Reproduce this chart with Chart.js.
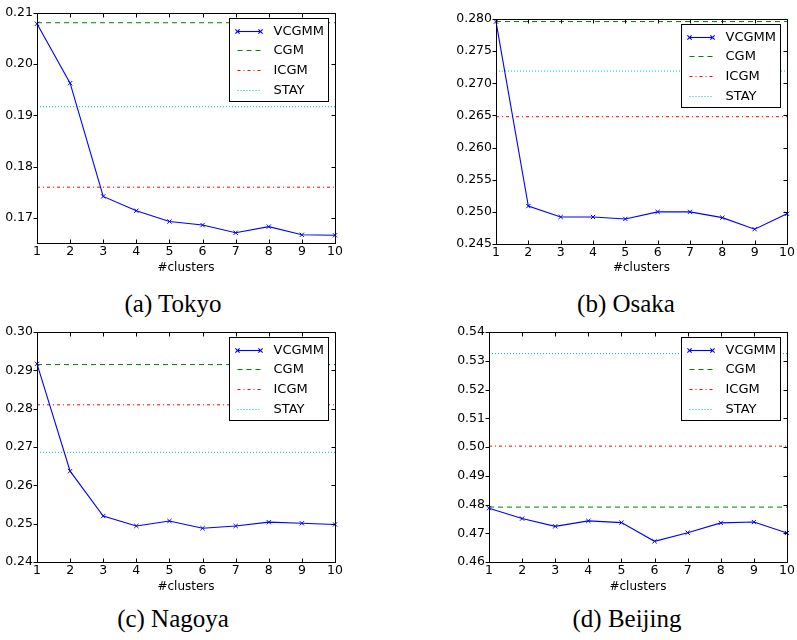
<!DOCTYPE html>
<html>
<head>
<meta charset="utf-8">
<script src="https://cdn.jsdelivr.net/npm/chart.js@4.4.1/dist/chart.umd.min.js"></script>
<style>
  body { margin: 0; background: #fff; width: 797px; height: 640px; position: relative; overflow: hidden; }
  .panel { position: absolute; height: 280px; }
  .caption {
    position: absolute;
    font-family: "Liberation Serif", "DejaVu Serif", serif;
    font-size: 25px;
    color: #000;
    white-space: nowrap;
    transform: translate(-50%, -50%);
  }
</style>
</head>
<body>
<div class="panel" style="left:0;top:0;width:345px"><canvas id="chart-tokyo"></canvas></div>
<div class="panel" style="left:400px;top:0;width:397px"><canvas id="chart-osaka"></canvas></div>
<div class="panel" style="left:0;top:319px;width:345px"><canvas id="chart-nagoya"></canvas></div>
<div class="panel" style="left:400px;top:319px;width:397px"><canvas id="chart-beijing"></canvas></div>

<div class="caption" style="left:173px;top:304px">(a) Tokyo</div>
<div class="caption" style="left:626px;top:304px">(b) Osaka</div>
<div class="caption" style="left:173px;top:619px">(c) Nagoya</div>
<div class="caption" style="left:627px;top:619px">(d) Beijing</div>

<script>
// data
const clusters = [1, 2, 3, 4, 5, 6, 7, 8, 9, 10];
const seriesNames = ['VCGMM', 'CGM', 'ICGM', 'STAY'];

const vcgmmTokyo   = [0.2079, 0.1963, 0.1742, 0.1714, 0.1693, 0.1686, 0.1671, 0.1683, 0.1667, 0.1666];
const vcgmmOsaka   = [0.2796, 0.2509, 0.2492, 0.2492, 0.2489, 0.2500, 0.2500, 0.2491, 0.2473, 0.2497];
const vcgmmNagoya  = [0.2917, 0.2637, 0.2520, 0.2494, 0.2507, 0.2488, 0.2494, 0.2504, 0.2501, 0.2498];
const vcgmmBeijing = [0.4787, 0.4751, 0.4724, 0.4743, 0.4737, 0.4672, 0.4702, 0.4736, 0.4739, 0.4701];

// Tokyo, Osaka, Nagoya, Beijing
const cgmLevels  = [0.2081, 0.2796, 0.2915, 0.4791];
const icgmLevels = [0.1760, 0.2648, 0.2810, 0.5003];
const stayLevels = [0.1917, 0.2719, 0.2686, 0.5325];

const yTicksTokyo   = ['0.17', '0.18', '0.19', '0.20', '0.21'];
const yTicksOsaka   = ['0.245', '0.250', '0.255', '0.260', '0.265', '0.270', '0.275', '0.280'];
const yTicksNagoya  = ['0.24', '0.25', '0.26', '0.27', '0.28', '0.29', '0.30'];
const yTicksBeijing = ['0.46', '0.47', '0.48', '0.49', '0.50', '0.51', '0.52', '0.53', '0.54'];

const yRanges = [[0.1651, 0.21], [0.245, 0.280], [0.24, 0.30], [0.46, 0.54]];

Chart.defaults.color = '#000';
Chart.defaults.font.family = '"DejaVu Sans", sans-serif';

// axes box with matplotlib-style ticks, and the boxed legend inside the plot
const frame = {
  id: 'frame',
  afterDatasetsDraw(chart) {
    const { ctx, chartArea: a, scales: { x, y } } = chart;
    const L = Math.round(a.left) + 0.5, R = Math.round(a.right) + 0.5;
    const T = Math.round(a.top) + 0.5, B = Math.round(a.bottom) + 0.5;
    ctx.save();
    ctx.strokeStyle = '#000';
    ctx.lineWidth = 1;
    ctx.setLineDash([]);
    ctx.strokeRect(L, T, R - L, B - T);
    ctx.beginPath();
    x.ticks.forEach(t => {
      const px = Math.round(x.getPixelForValue(t.value)) + 0.5;
      ctx.moveTo(px, B); ctx.lineTo(px, B - 4);
      ctx.moveTo(px, T); ctx.lineTo(px, T + 4);
    });
    y.ticks.forEach(t => {
      const py = Math.round(y.getPixelForValue(t.value)) + 0.5;
      ctx.moveTo(L, py); ctx.lineTo(L - 4, py);
      ctx.moveTo(R, py); ctx.lineTo(R - 4, py);
    });
    ctx.stroke();

    // legend
    const w = 99, h = 83;
    const bx = Math.round(a.right) - 7 - w + 0.5;
    const by = Math.round(a.top) + 5 + 0.5;
    ctx.fillStyle = '#fff';
    ctx.fillRect(bx, by, w, h);
    ctx.strokeRect(bx, by, w, h);
    ctx.font = '13px "DejaVu Sans", sans-serif';
    ctx.textBaseline = 'middle';
    ctx.textAlign = 'left';
    chart.data.datasets.forEach((ds, i) => {
      const ly = Math.round(by + 12 + i * 19.7);
      const x0 = bx + 8, x1 = bx + 31;
      ctx.strokeStyle = ds.borderColor;
      ctx.lineWidth = ds.borderWidth;
      ctx.setLineDash(ds.borderDash || []);
      ctx.beginPath();
      ctx.moveTo(x0, ly + 0.5); ctx.lineTo(x1, ly + 0.5);
      ctx.stroke();
      ctx.setLineDash([]);
      if (ds.pointRadius > 0) {
        [x0, x1].forEach(px => {
          Chart.helpers.drawPoint(ctx, { pointStyle: 'crossRot', radius: ds.pointRadius, borderWidth: 1 }, px, ly + 0.5);
        });
      }
      ctx.fillStyle = '#000';
      ctx.fillText(ds.label, bx + 44, ly + 1);
    });
    ctx.restore();
  }
};

function flatLine(level) {
  return [{ x: clusters[0], y: level }, { x: clusters[clusters.length - 1], y: level }];
}

function makeChart(id, idx, vcgmm, yTicks, geom) {
  const ctx = document.getElementById(id).getContext('2d');
  return new Chart(ctx, {
    type: 'line',
    data: {
      datasets: [
        {
          label: seriesNames[0],
          data: clusters.map((c, i) => ({ x: c, y: vcgmm[i] })),
          borderColor: '#0000ff',
          borderWidth: 1.1,
          pointStyle: 'crossRot',
          pointRadius: 3,
          pointBorderWidth: 1,
          pointBorderColor: '#0000ff',
          tension: 0,
          clip: 5
        },
        {
          label: seriesNames[1],
          data: flatLine(cgmLevels[idx]),
          borderColor: '#008000',
          borderWidth: 1,
          borderDash: [5, 4],
          pointRadius: 0
        },
        {
          label: seriesNames[2],
          data: flatLine(icgmLevels[idx]),
          borderColor: '#ff0000',
          borderWidth: 1,
          borderDash: [3, 3, 1, 3],
          pointRadius: 0
        },
        {
          label: seriesNames[3],
          data: flatLine(stayLevels[idx]),
          borderColor: '#00bfbf',
          borderWidth: 1,
          borderDash: [1, 2],
          pointRadius: 0
        }
      ]
    },
    options: {
      responsive: true,
      maintainAspectRatio: false,
      animation: false,
      events: [],
      layout: { padding: { top: geom.top, right: geom.right, left: 0, bottom: 0 } },
      plugins: { legend: { display: false }, tooltip: { enabled: false } },
      scales: {
        x: {
          type: 'linear',
          min: clusters[0],
          max: clusters[clusters.length - 1],
          grid: { display: false, drawTicks: false },
          border: { display: false },
          ticks: { stepSize: 1, padding: 1, font: { size: 12.5 }, maxRotation: 0 },
          afterBuildTicks: s => { s.ticks = clusters.map(v => ({ value: v })); },
          afterFit: s => { s.height = geom.xh; },
          title: { display: true, text: '#clusters', font: { size: 12 }, padding: { top: 0, bottom: 5 } }
        },
        y: {
          type: 'linear',
          min: yRanges[idx][0],
          max: yRanges[idx][1],
          grid: { display: false, drawTicks: false },
          border: { display: false },
          ticks: {
            padding: 4,
            font: { size: 12.5 },
            callback: v => yTicks.find(t => Math.abs(parseFloat(t) - v) < 1e-9) || ''
          },
          afterBuildTicks: s => { s.ticks = yTicks.map(t => ({ value: parseFloat(t) })); },
          afterFit: s => { s.width = geom.yw; }
        }
      }
    },
    plugins: [frame]
  });
}

makeChart('chart-tokyo',   0, vcgmmTokyo,   yTicksTokyo,   { top: 13, right: 10, yw: 37, xh: 37 });
makeChart('chart-osaka',   1, vcgmmOsaka,   yTicksOsaka,   { top: 19, right: 10, yw: 96, xh: 36 });
makeChart('chart-nagoya',  2, vcgmmNagoya,  yTicksNagoya,  { top: 13, right: 10, yw: 37, xh: 37 });
makeChart('chart-beijing', 3, vcgmmBeijing, yTicksBeijing, { top: 13, right: 10, yw: 89, xh: 37 });
</script>
</body>
</html>
